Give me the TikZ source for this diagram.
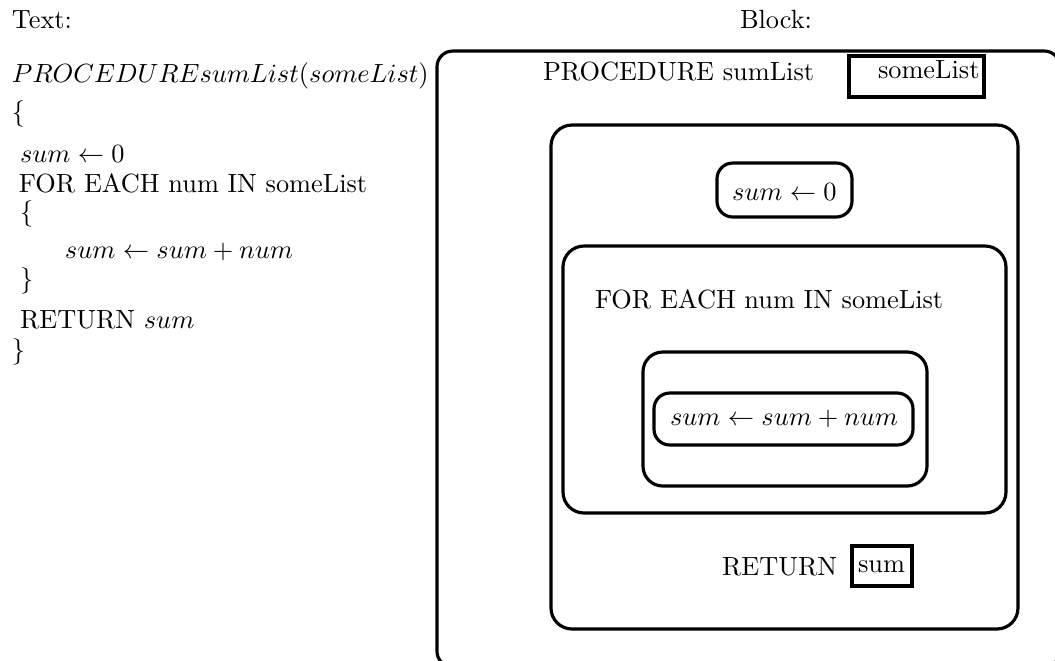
\documentclass[tikz,border=0pt]{standalone}
\begin{document}
\begin{tikzpicture}[x=0.38pt,y=-0.38pt,
  txt/.style={anchor=base west,inner sep=0pt,outer sep=0pt},
  rbox/.style={draw,line width=1.2pt,rounded corners=#1},
  rbox/.default=7pt,
  sqbox/.style={draw,line width=1.2pt}]
\useasboundingbox (0,0) rectangle (1055,660);
% headings
\node[txt] (ttext) at (12,28) {Text:};
\node[txt] (tblock) at (740,28) {Block:};
% left column: text form
\node[txt] (l1) at (12,82) {$PROCEDURE sumList(someList)$};
\node[txt] (l2) at (12,120) {\{};
\node[txt] (l3) at (20,162) {$sum\leftarrow 0$};
\node[txt] (l4) at (19,192) {FOR EACH num IN someList};
\node[txt] (l5) at (20,220) {\{};
\node[txt] (l6) at (65,258) {$sum\leftarrow sum+num$};
\node[txt] (l7) at (20,287) {\}};
\node[txt] (l8) at (20,328) {RETURN $sum$};
\node[txt] (l9) at (12,358) {\}};
% right column: block form
\begin{scope}
\clip (0,0) rectangle (1055,660);
\draw[rbox=6pt] (437,51) rectangle (1060,667);
\end{scope}
\node[txt] (proc) at (543,80) {PROCEDURE sumList};
\draw[sqbox] (849,56) rectangle (984,97);
\node[txt] (param) at (878,78) {someList};
\draw[rbox=8pt] (551,125) rectangle (1018,629);
\draw[rbox=6pt] (717,163) rectangle (852,217);
\node[txt] (init) at (732,200) {$sum\leftarrow 0$};
\draw[rbox=8pt] (563,246) rectangle (1006,513);
\node[txt] (loop) at (595,308) {FOR EACH num IN someList};
\draw[rbox=7.5pt] (643,352) rectangle (927,486);
\draw[rbox=6pt] (654,393) rectangle (913,445);
\node[txt] (body) at (670,425) {$sum\leftarrow sum+num$};
\node[txt] (ret) at (722,575) {RETURN};
\draw[sqbox] (852,546) rectangle (912,586);
\node[txt] (retv) at (858,572) {sum};
\end{tikzpicture}
\end{document}
